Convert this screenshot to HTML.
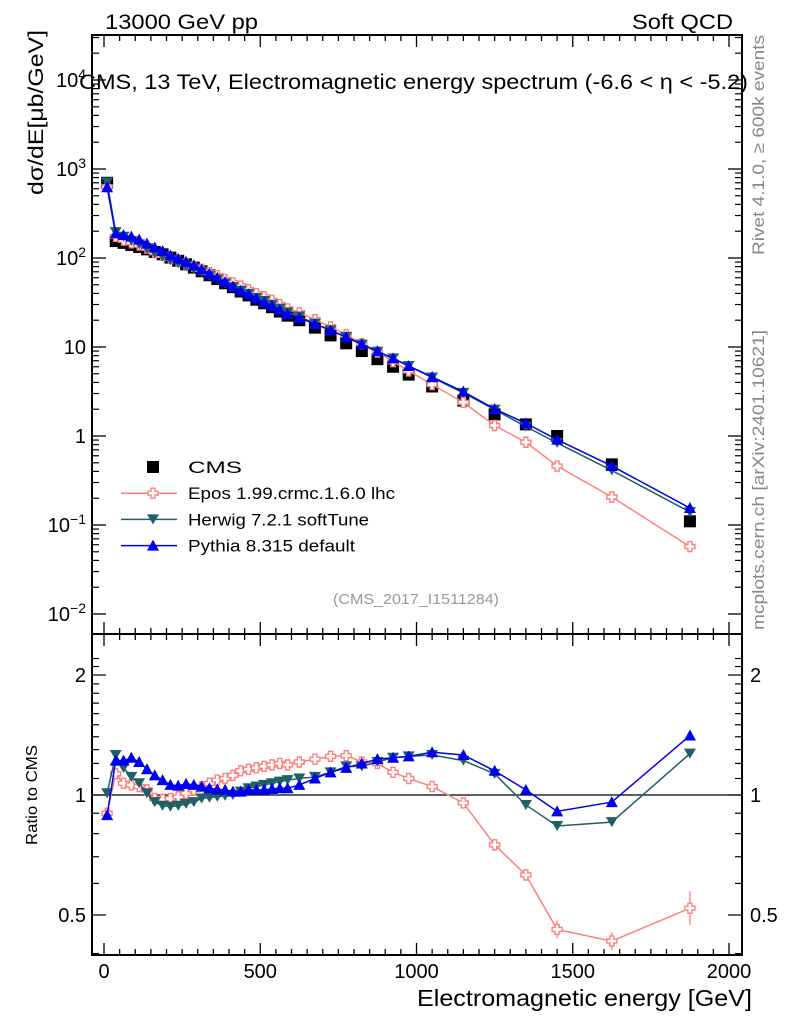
<!DOCTYPE html>
<html><head><meta charset="utf-8">
<style>
body{margin:0;background:#fff;}
svg text{font-family:"Liberation Sans",sans-serif;}
</style></head>
<body>
<svg id="chart" width="786" height="1024" viewBox="0 0 786 1024" xmlns="http://www.w3.org/2000/svg">
<rect width="786" height="1024" fill="#fff"/>
<text x="105" y="29" font-size="21" textLength="153" lengthAdjust="spacingAndGlyphs">13000 GeV pp</text>
<text x="632" y="29" font-size="21" textLength="101" lengthAdjust="spacingAndGlyphs">Soft QCD</text>
<text x="79" y="89" font-size="21" textLength="669" lengthAdjust="spacingAndGlyphs">CMS, 13 TeV, Electromagnetic energy spectrum (-6.6 &lt; η &lt; -5.2)</text>
<text transform="translate(43,30) rotate(-90)" font-size="21" text-anchor="end" textLength="165" lengthAdjust="spacingAndGlyphs">dσ/dE[μb/GeV]</text>
<text transform="translate(37,795) rotate(-90)" font-size="16" text-anchor="middle" textLength="100" lengthAdjust="spacingAndGlyphs">Ratio to CMS</text>
<text transform="translate(764,35) rotate(-90)" font-size="17" fill="#888" text-anchor="end" textLength="220" lengthAdjust="spacingAndGlyphs">Rivet 4.1.0, ≥ 600k events</text>
<text transform="translate(764,630) rotate(-90)" font-size="17" fill="#888" textLength="300" lengthAdjust="spacingAndGlyphs">mcplots.cern.ch [arXiv:2401.10621]</text>
<text x="333" y="604" font-size="15" fill="#999" textLength="166" lengthAdjust="spacingAndGlyphs">(CMS_2017_I1511284)</text>
<text x="417" y="1006" font-size="23" textLength="335" lengthAdjust="spacingAndGlyphs">Electromagnetic energy [GeV]</text>
<g id="axes"></g>
<g id="marks"></g>
<g id="legend"></g>
</svg>
<script>
const energies=[10,37.5,62.5,87.5,112.5,137.5,162.5,187.5,212.5,237.5,262.5,287.5,312.5,337.5,362.5,387.5,412.5,437.5,462.5,487.5,512.5,537.5,562.5,587.5,625,675,725,775,825,875,925,975,1050,1150,1250,1350,1450,1625,1875];
const cmsValues=[700,155,148,140,133,125,117,110,101,93,85,78,71,64,58,52,47,42,38,34,31,28,25,22.5,20,16.5,13.5,11,9,7.3,6,4.9,3.6,2.5,1.75,1.35,1.0,0.48,0.11];
const eposRatio=[0.90,1.13,1.07,1.06,1.05,1.03,0.98,0.975,0.98,0.99,1.01,1.03,1.05,1.07,1.09,1.10,1.12,1.15,1.16,1.17,1.18,1.19,1.20,1.19,1.21,1.23,1.25,1.255,1.21,1.20,1.14,1.10,1.05,0.955,0.75,0.63,0.46,0.43,0.52];
const herwigRatio=[1.01,1.26,1.17,1.11,1.07,1.01,0.96,0.94,0.935,0.94,0.95,0.96,0.98,0.985,0.99,0.995,1.0,1.02,1.04,1.05,1.06,1.07,1.08,1.09,1.10,1.11,1.14,1.18,1.18,1.21,1.24,1.25,1.26,1.22,1.13,0.944,0.836,0.855,1.27];
const pythiaRatio=[0.89,1.22,1.22,1.24,1.21,1.16,1.12,1.09,1.06,1.055,1.066,1.06,1.05,1.04,1.033,1.03,1.02,1.02,1.03,1.03,1.03,1.035,1.04,1.04,1.06,1.10,1.14,1.17,1.20,1.23,1.24,1.25,1.28,1.26,1.15,1.03,0.91,0.96,1.41];
const xTicks=[0,500,1000,1500,2000];
const yTickExps=[-2,-1,0,1,2,3,4];
const yTickLabels=["10⁻²","10⁻¹","1","10","10²","10³","10⁴"];
const ratioTicks=[0.5,1,2];
const ratioTickLabels=["0.5","1","2"];

const NS="http://www.w3.org/2000/svg";
const L=92,R=742,T=35,MID=634,B=955;
const xs=e=>104+e*0.3125;
const ys=v=>614-89*(Math.log10(v)+2);
const yr=r=>795-398.6*Math.log10(r);
function mk(tag,attrs,parent){const el=document.createElementNS(NS,tag);for(const k in attrs)el.setAttribute(k,attrs[k]);parent.appendChild(el);return el;}
const axes=document.getElementById('axes'),marks=document.getElementById('marks'),leg=document.getElementById('legend');

let f1=mk('rect',{x:L,y:T,width:R-L,height:MID-T,fill:'none',stroke:'#000','stroke-width':2},axes);


let f2=mk('rect',{x:L,y:MID,width:R-L,height:B-MID,fill:'none',stroke:'#000','stroke-width':2},axes);


for(let e=0;e<=2000;e+=50){const maj=e%500===0;const x=xs(e);
 for(const [y0,d] of [[T,1],[MID,-1],[MID,1],[B,-1]]){mk('line',{x1:x,x2:x,y1:y0,y2:y0+d*(maj?12:6),stroke:'#000','stroke-width':1.3},axes);}
}
xTicks.forEach(e=>{const t=mk('text',{x:xs(e),y:978,'font-size':20,'text-anchor':'middle'},axes);t.textContent=e;
 
 });
yTickExps.forEach((p,i)=>{const y=ys(Math.pow(10,p));
 for(const [x0,d] of [[L,1],[R,-1]])mk('line',{x1:x0,x2:x0+d*14,y1:y,y2:y,stroke:'#000','stroke-width':1.3},axes);
 for(let m=2;m<=9;m++){const ym=ys(m*Math.pow(10,p));if(ym<T)continue;
  for(const [x0,d] of [[L,1],[R,-1]])mk('line',{x1:x0,x2:x0+d*7,y1:ym,y2:ym,stroke:'#000','stroke-width':1.2},axes);}
 const lab=yTickLabels[i];const t=mk('text',{x:86,y:y+7,'font-size':20,'text-anchor':'end'},axes);
 
 
 if(lab.startsWith('10')&&lab.length>2){t.textContent='10';const s=mk('tspan',{dy:-8,'font-size':14},t);s.textContent=lab.slice(2).replace('⁻','−').replace(/[⁰¹²³⁴]/,c=>'⁰¹²³⁴'.indexOf(c));}
 else t.textContent=lab;
});
for(let r=0.4;r<=2.3;r+=0.1){const y=yr(r);if(y<MID||y>B)continue;const maj=[0.5,1,2].some(v=>Math.abs(v-r)<1e-6);
 for(const [x0,d] of [[L,1],[R,-1]])mk('line',{x1:x0,x2:x0+d*(maj?14:7),y1:y,y2:y,stroke:'#000','stroke-width':1.2},axes);}
ratioTicks.forEach((r,i)=>{for(const [x,a] of [[86,'end'],[750,'start']]){const t=mk('text',{x:x,y:yr(r)+7,'font-size':20,'text-anchor':a},axes);t.textContent=ratioTickLabels[i];
 
 }});
let ref=mk('line',{x1:L,x2:R,y1:yr(1),y2:yr(1),stroke:'#000','stroke-width':1.3},axes);



function marker(type,x,y,col,g){
 if(type==='sq')return mk('rect',{x:x-6,y:y-6,width:12,height:12,fill:'#000'},g);
 if(type==='cross')return mk('path',{d:`M${x-2},${y-5}h4v3h3v4h-3v3h-4v-3h-3v-4h3z`,fill:'#fff',stroke:col,'stroke-width':1.4},g);
 if(type==='down')return mk('path',{d:`M${x-6},${y-5}h12l-6,10z`,fill:col},g);
 return mk('path',{d:`M${x-6},${y+5}h12l-6,-11z`,fill:col},g);
}
const series=[
 {name:'epos',ratio:eposRatio,col:'#ff7f7f',type:'cross'},
 {name:'herwig',ratio:herwigRatio,col:'#1f5f66',type:'down'},
 {name:'pythia',ratio:pythiaRatio,col:'#0000ee',type:'up'}];
const gc=mk('g',{},marks);


energies.forEach((e,i)=>{const m=marker('sq',xs(e),ys(cmsValues[i]),'#000',gc);
 
 });
series.forEach(s=>{
 const g=mk('g',{},marks);
 
 
 const pm=energies.map((e,i)=>xs(e)+','+ys(cmsValues[i]*s.ratio[i])).join(' ');
 const pr=energies.map((e,i)=>xs(e)+','+yr(s.ratio[i])).join(' ');
 let l1=mk('polyline',{points:pm,fill:'none',stroke:s.col,'stroke-width':1.5},g);
 
 
 let l2=mk('polyline',{points:pr,fill:'none',stroke:s.col,'stroke-width':1.5},g);
 
 
 energies.forEach((e,i)=>{
  if(s.name==='epos'&&e>1200){const y=yr(s.ratio[i]);const err=e>1800?17:(e>1400?9:6);
   mk('line',{x1:xs(e),x2:xs(e),y1:y-err,y2:y+err,stroke:s.col,'stroke-width':1.3},g);}
  const a=marker(s.type,xs(e),ys(cmsValues[i]*s.ratio[i]),s.col,g);
  
  
  const b=marker(s.type,xs(e),yr(s.ratio[i]),s.col,g);
  
  
 });
});
const entries=[['CMS','sq','#000',54],['Epos 1.99.crmc.1.6.0 lhc','cross','#ff7f7f',207],['Herwig 7.2.1 softTune','down','#1f5f66',181],['Pythia 8.315 default','up','#0000ee',167]];
entries.forEach((en,i)=>{const y=467+i*26.2;const g=mk('g',{},leg);
 
 
 if(i>0)mk('line',{x1:121,x2:177,y1:y,y2:y,stroke:en[2],'stroke-width':1.5},g);
 marker(en[1],153,y,en[2],g);
 const t=mk('text',{x:188,y:y+6,'font-size':17,textLength:en[3],lengthAdjust:'spacingAndGlyphs'},g);t.textContent=en[0];});
</script>
</body></html>
